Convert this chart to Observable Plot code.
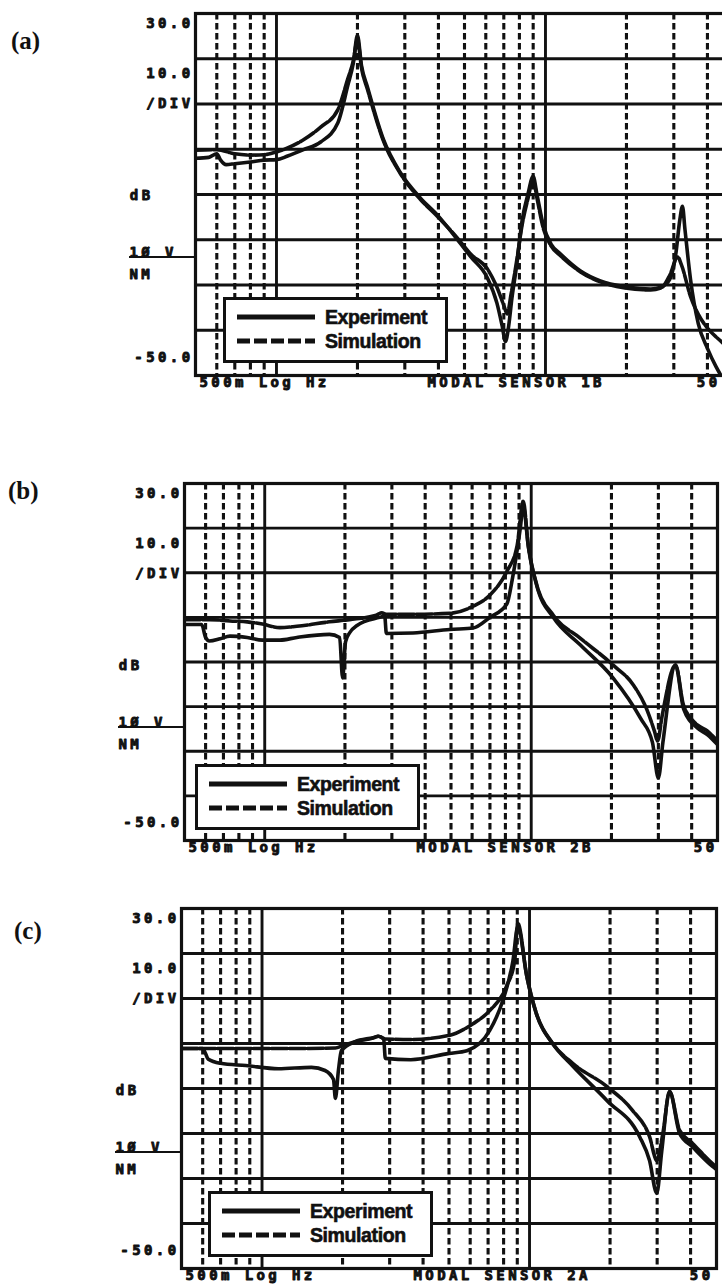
<!DOCTYPE html>
<html>
<head>
<meta charset="utf-8">
<script src="https://cdn.jsdelivr.net/npm/d3@7"></script>
<script src="https://cdn.jsdelivr.net/npm/@observablehq/plot@0.6"></script>
<style>
  html, body { margin: 0; padding: 0; background: #fff; overflow: hidden; }
  #page { position: relative; width: 722px; height: 1286px; overflow: hidden; background: #fff; }
  .panel { position: absolute; left: 0; }
  .panel svg { max-width: none !important; }
  .panel svg text { letter-spacing: 3.4px; }
  .letter { position: absolute; font: bold 25px "Liberation Serif", "DejaVu Serif", serif; color: #111; }
  .legend { position: absolute; width: 219px; height: 60px; border: 3px solid #111; background: #fff; }
  .legend text { letter-spacing: -0.4px; }
  .refbar { position: absolute; height: 0; border-top: 2.5px solid #111; }
</style>
</head>
<body>
<div id="page"></div>
<script>
// Frequency axis (log, Hz) and level axis (dB)
const freqDomain = [0.5, 50];
const dbDomain = [-50, 30];
const solidFreqs = [1, 10];
const dashedFreqs = [0.6, 0.7, 0.8, 0.9, 2, 3, 4, 5, 6, 7, 8, 9, 20, 30, 40];
const levelLines = [20, 10, 0, -10, -20, -30, -40];

// Axis annotation texts
const topLabel = "30.0";
const bottomLabel = "-50.0";
const scaleLabels = ["10.0", "/DIV"];
const unitLabel = "dB";
const refLabels = ["1Ø V", "NM"];
const startLabel = "500m Log Hz";
const endLabel = "50";
const panelLetters = ["(a)", "(b)", "(c)"];
const sensorNames = ["MODAL SENSOR 1B", "MODAL SENSOR 2B", "MODAL SENSOR 2A"];
const seriesNames = ["Experiment", "Simulation"];

// Frequency responses: [Hz, dB]
const expA = [[0.5,-2.0],[0.56,-1.8],[0.6,-1.0],[0.62,-2.4],[0.65,-3.4],[0.7,-3.2],[0.8,-2.8],[0.9,-2.4],[1.0,-2.3],[1.1,-1.5],[1.26,-0.1],[1.46,1.6],[1.69,5.8],[1.84,14],[1.93,19],[2.0,25.2],[2.07,18.5],[2.18,13.7],[2.5,2.1],[2.89,-5.2],[3.43,-10.8],[3.96,-14.5],[4.7,-19.9],[5.28,-23.8],[6.09,-28.5],[6.6,-34],[6.9,-39],[7.1,-42.5],[7.3,-39],[7.5,-33],[7.8,-26],[8.2,-15.5],[8.6,-10],[9.0,-6.0],[9.3,-10],[9.8,-16.6],[10.5,-21],[11.4,-23.2],[13.5,-26.9],[16,-29.1],[20,-30.4],[24.6,-30.9],[27,-30.4],[29,-28.7],[30.5,-23.2],[31.6,-15.5],[32.3,-12.6],[33,-17.7],[34.6,-28.7],[37,-38.6],[40,-44],[43,-48],[46,-51],[50,-54]];
const simA = [[0.5,-0.2],[0.6,-0.1],[0.7,-1.0],[0.8,-1.3],[0.9,-1.2],[1.0,-0.6],[1.1,0.3],[1.26,2.1],[1.46,4.9],[1.69,8.7],[1.84,15.5],[1.93,19.5],[2.0,24.2],[2.07,18],[2.18,13.2],[2.5,1.8],[2.89,-5.4],[3.43,-11.1],[3.96,-14.8],[4.7,-19.6],[5.28,-23.2],[6.09,-26.5],[6.6,-30.5],[7.0,-34.5],[7.2,-36.4],[7.45,-32],[7.8,-25],[8.2,-16.5],[8.6,-11],[9.0,-6.8],[9.3,-10.8],[9.8,-17.3],[10.5,-21.4],[11.4,-23.6],[13.5,-27.1],[16,-29.3],[20,-30.7],[24.6,-31.1],[27,-30.6],[29,-27.8],[31,-23.8],[32,-25.5],[34.6,-32.5],[37,-36.5],[40,-39.5],[45,-42.5],[50,-45]];

const expB = [[0.5,-1.6],[0.58,-1.6],[0.6,-4.5],[0.62,-5.3],[0.68,-4.8],[0.74,-4.2],[0.86,-4.5],[0.98,-5.1],[1.14,-5.1],[1.32,-4.5],[1.75,-3.8],[1.91,-4.5],[1.96,-13.6],[2.01,-5.5],[2.08,-3.5],[2.22,-1.8],[2.7,0],[2.82,0.3],[2.86,-3.6],[3.6,-3.5],[4.95,-2.7],[6.05,-2.4],[7.0,0],[8.1,3],[8.5,8.7],[9.1,20],[9.33,25],[9.75,16],[10.5,7],[12.1,0],[15.3,-6.2],[20.3,-13.6],[25.7,-22.6],[28.5,-28],[30,-36],[31.2,-28],[34.8,-10.7],[37.3,-20.5],[42,-24.8],[45.9,-26.3],[50,-28.5]];
const simB = [[0.5,-0.5],[0.62,-0.5],[0.74,-0.8],[0.86,-1.0],[0.98,-1.5],[1.14,-2.3],[1.32,-2.0],[1.75,-1.0],[2.08,-0.5],[2.6,0.4],[2.75,1.0],[2.87,0.7],[3.6,0.7],[4.95,0.9],[6.05,2.5],[7.0,5.0],[8.1,10.3],[8.85,16],[9.33,26],[9.75,16],[10.5,7.2],[12.1,0.5],[15.3,-4.7],[20.3,-10.7],[24.2,-15.2],[27.3,-21],[29.0,-25.5],[29.8,-27.7],[31,-22],[34.8,-10.7],[37.3,-19.7],[42,-24.1],[45.9,-25.5],[50,-27.7]];

const expC = [[0.5,-1.1],[0.6,-1.1],[0.63,-3.5],[0.7,-4.4],[0.87,-4.9],[1.15,-5.6],[1.53,-5.3],[1.72,-6.0],[1.85,-8],[1.88,-12.2],[1.93,-6],[1.98,-1.6],[2.23,0.4],[2.6,1.3],[2.72,1.6],[2.85,1.0],[2.89,-3.3],[3.6,-3.6],[5.0,-2.2],[5.83,-1.6],[7.1,2.9],[7.95,9.6],[8.67,18.4],[9.04,26],[9.77,14.9],[10.6,6.7],[12.2,0],[14.5,-5.0],[19.5,-12.7],[25.8,-20.7],[28.1,-26],[29.9,-33.3],[31.2,-24],[33.4,-10.7],[36.4,-20],[40.7,-23],[48.3,-27.3],[50,-28]];
const simC = [[0.5,-1.1],[0.7,-1.1],[1.0,-1.1],[1.5,-1.1],[1.88,-1.0],[2.0,-0.5],[2.23,0.4],[2.6,1.2],[2.72,1.6],[2.89,1.0],[3.6,0.9],[5.0,1.8],[6.15,4.4],[7.1,7.3],[8.2,12.7],[8.8,18.4],[9.04,26.7],[9.77,14.9],[10.6,6.7],[12.2,0],[14.5,-4.4],[19.5,-9.6],[24.3,-14.9],[28.1,-20.7],[29.9,-26],[31.5,-20],[33.4,-10.7],[36.4,-19.3],[40.7,-22.2],[48.3,-26.7],[50,-27.5]];

const experiments = [expA, expB, expC];
const simulations = [simA, simB, simC];

// Page placement of each panel (svg box and plot frame, in page pixels)
const layout = [
  {svgTop: 0,   svgHeight: 400, width: 745, frameLeft: 195, frameRight: 733, frameTop: 13,  frameBottom: 375,  legend: [28, 284], endDx: -13, letter: [11, 27]},
  {svgTop: 460, svgHeight: 400, width: 722, frameLeft: 184, frameRight: 717, frameTop: 483, frameBottom: 840,  legend: [11, 281], endDx: 0,   letter: [8, 477]},
  {svgTop: 885, svgHeight: 401, width: 722, frameLeft: 181, frameRight: 716, frameTop: 908, frameBottom: 1268, legend: [27, 283], endDx: -3,  letter: [14, 917]}
];

const ink = "#111";
const plotterFont = {fontFamily: "DejaVu Sans Mono", fontWeight: "bold", fontSize: 14, fill: ink, stroke: ink, strokeWidth: 0.9};
const page = document.getElementById("page");

layout.forEach((L, i) => {
  const xy = {x: d => d[0], y: d => d[1]};
  const label = (txt, anchor, dx, dy, textAnchor) =>
    Plot.text([txt], {text: d => d, frameAnchor: anchor, dx, dy, textAnchor, ...plotterFont});

  const chart = Plot.plot({
    width: L.width,
    height: L.svgHeight,
    marginLeft: L.frameLeft,
    marginRight: L.width - L.frameRight,
    marginTop: L.frameTop - L.svgTop,
    marginBottom: L.svgTop + L.svgHeight - L.frameBottom,
    x: {type: "log", domain: freqDomain, axis: null},
    y: {domain: dbDomain, axis: null},
    style: {background: "transparent", overflow: "visible", maxWidth: "none"},
    marks: [
      Plot.ruleX(dashedFreqs, {stroke: ink, strokeWidth: 3.1, strokeDasharray: "6.5,3.5"}),
      Plot.ruleX(solidFreqs, {stroke: ink, strokeWidth: 2.9}),
      Plot.ruleY(levelLines, {stroke: ink, strokeWidth: 2.9}),
      Plot.frame({stroke: ink, strokeWidth: 3.2}),
      Plot.line(simulations[i], {...xy, stroke: ink, strokeWidth: 3.6, strokeDasharray: "16,2", curve: "monotone-x", clip: true}),
      Plot.line(experiments[i], {...xy, stroke: ink, strokeWidth: 3.6, curve: "monotone-x", clip: true}),
      label(topLabel, "top-left", -2, 5, "end"),
      label(scaleLabels[0], "top-left", -2, 55, "end"),
      label(scaleLabels[1], "top-left", -2, 85, "end"),
      label(unitLabel, "top-left", -42, 177, "end"),
      label(refLabels[0], "top-left", -66, 234, "start"),
      label(refLabels[1], "top-left", -66, 256, "start"),
      label(bottomLabel, "bottom-left", -2, -14, "end"),
      label(startLabel, "bottom-left", 4, 11, "start"),
      label(sensorNames[i], "bottom-left", 232, 11, "start"),
      label(endLabel, "bottom-right", L.endDx, 11, "end")
    ]
  });

  const holder = document.createElement("div");
  holder.className = "panel";
  holder.style.top = L.svgTop + "px";
  holder.appendChild(chart);
  page.appendChild(holder);

  // reference-level bar under the "1Ø V" label
  const bar = document.createElement("div");
  bar.className = "refbar";
  bar.style.left = (L.frameLeft - 66) + "px";
  bar.style.width = "66px";
  bar.style.top = (L.frameTop + 243) + "px";
  page.appendChild(bar);

  // panel letter
  const letter = document.createElement("div");
  letter.className = "letter";
  letter.style.left = L.letter[0] + "px";
  letter.style.top = L.letter[1] + "px";
  letter.textContent = panelLetters[i];
  page.appendChild(letter);

  // legend box
  const leg = document.createElement("div");
  leg.className = "legend";
  leg.style.left = (L.frameLeft + L.legend[0]) + "px";
  leg.style.top = (L.frameTop + L.legend[1]) + "px";
  const legFont = 'font-family="Liberation Sans, Arial, sans-serif" font-weight="bold" font-size="19.5" stroke="#111" stroke-width="0.6"';
  leg.innerHTML =
    `<svg width="219" height="60">
      <line x1="11" x2="89" y1="17" y2="17" stroke="${ink}" stroke-width="5"/>
      <text x="99" y="17" dy="0.35em" ${legFont} fill="${ink}">${seriesNames[0]}</text>
      <line x1="11" x2="89" y1="41" y2="41" stroke="${ink}" stroke-width="5" stroke-dasharray="13,4"/>
      <text x="99" y="41" dy="0.35em" ${legFont} fill="${ink}">${seriesNames[1]}</text>
    </svg>`;
  page.appendChild(leg);
});
</script>
</body>
</html>
